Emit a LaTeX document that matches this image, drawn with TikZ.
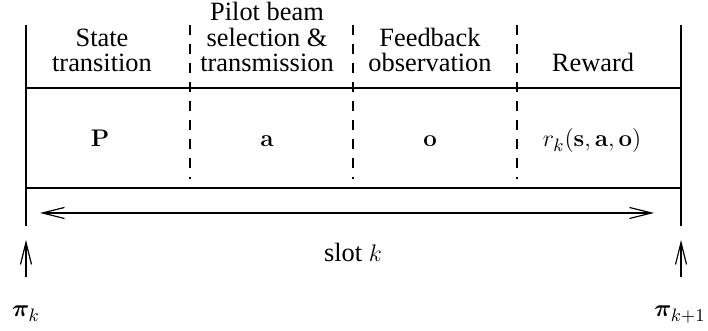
\documentclass[tikz,border=0pt]{standalone}
\usepackage{amsmath}
\usepackage{bm}
\usepackage[no-math]{fontspec}
\setmainfont{LiberationSerif}[Extension=.ttf,UprightFont=*-Regular,BoldFont=*-Bold,ItalicFont=*-Italic,BoldItalicFont=*-BoldItalic]
\usetikzlibrary{arrows.meta}
\tikzset{
  solidline/.style={line width=0.75pt},
  dashline/.style={line width=0.65pt, dash pattern=on 5pt off 4.5pt},
  longtip/.style={-{Straight Barb[length=11pt,width=5.5pt,line width=0.6pt]}},
  head/.style={anchor=south, align=center, inner sep=0pt},
  cell/.style={anchor=base, inner sep=0pt},
}
\begin{document}
\begin{tikzpicture}[x=0.5pt,y=-0.5pt,font=\fontsize{13.2}{12.6}\selectfont]
\useasboundingbox (0,0) rectangle (708,331);
% frame
\coordinate (lt) at (26,25);
\coordinate (lb) at (26,226);
\coordinate (rt) at (681,25);
\coordinate (rb) at (681,226);
\draw[solidline] (lt) -- (lb);
\draw[solidline] (rt) -- (rb);
\coordinate (h1l) at (26,88);
\coordinate (h1r) at (681,88);
\coordinate (h2l) at (26,188);
\coordinate (h2r) at (681,188);
\draw[solidline] (h1l) -- (h1r);
\draw[solidline] (h2l) -- (h2r);
% dashed separators
\foreach \x/\n in {190/a,353/b,517/c}{
  \coordinate (d\n t) at (\x,25);
  \coordinate (d\n b) at (\x,179);
  \draw[dashline] (d\n t) -- (d\n b);
}
% headers
\node[head] (h1) at (102,72) {State\\transition};
\node[head] (h2) at (267,72) {Pilot beam\\selection \&\\transmission};
\node[head] (h3) at (430,72) {Feedback\\observation};
\node[head] (h4) at (593,72) {Reward};
% contents
\node[cell] (c1) at (100,147) {$\mathbf{P}$};
\node[cell] (c2) at (267,147) {$\mathbf{a}$};
\node[cell] (c3) at (430,147) {$\mathbf{o}$};
\node[cell] (c4) at (592,147) {$r_k(\mathbf{s},\mathbf{a},\mathbf{o})$};
% slot arrow
\coordinate (al) at (40,213);
\coordinate (ar) at (654,213);
\draw[line width=0.6pt, {Straight Barb[length=11pt,width=5.5pt,line width=0.6pt]}-{Straight Barb[length=11pt,width=5.5pt,line width=0.6pt]}] (al) -- (ar);
\node[cell] (slot) at (353,262) {slot $k$};
% policy arrows
\coordinate (p1b) at (26,277);
\coordinate (p1t) at (26,240);
\coordinate (p2b) at (681,277);
\coordinate (p2t) at (681,240);
\draw[line width=0.6pt, longtip] (p1b) -- (p1t);
\draw[line width=0.6pt, longtip] (p2b) -- (p2t);
\node[cell] (pik) at (26,317) {$\bm{\pi}_k$};
\node[cell] (pik1) at (680,317) {$\bm{\pi}_{k+1}$};
\end{tikzpicture}
\end{document}
